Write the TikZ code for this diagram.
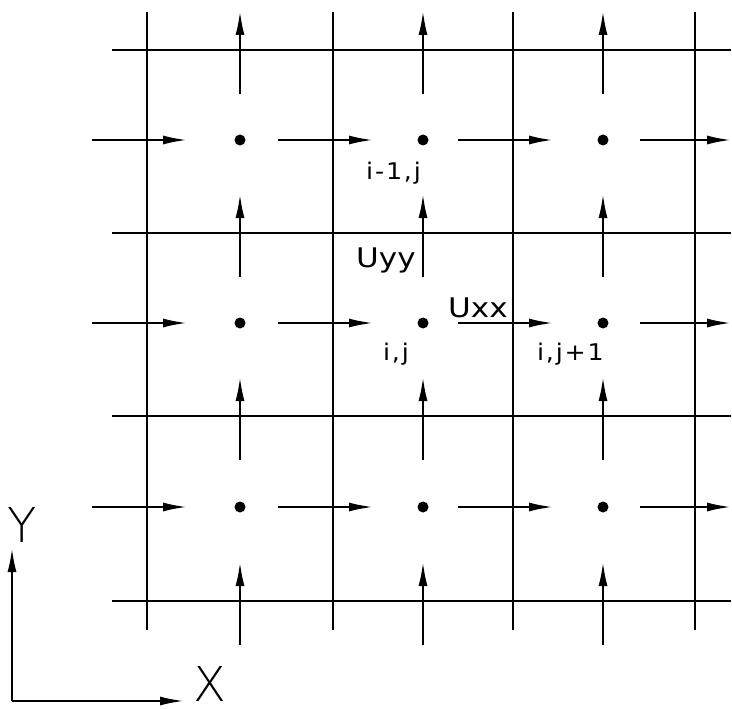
\documentclass[tikz,border=0pt]{standalone}
\usepackage{fontspec}
\newfontfamily\cadfont[FakeStretch=1.15]{DejaVu Sans}
\newfontfamily\cadsmall[FakeStretch=1.1,LetterSpace=8]{DejaVu Sans}
\newfontfamily\cadthin{DejaVu Sans ExtraLight}
\usetikzlibrary{arrows.meta}
\tikzset{
  grid line/.style={line width=2.2pt, line cap=butt},
  flux/.style={line width=2.2pt, -{Latex[length=24pt,width=9pt]}},
  dotmark/.style={circle, fill=black, inner sep=0pt, minimum size=11pt},
  biglabel/.style={font=\cadfont\fontsize{27}{27}\selectfont, inner sep=0pt},
  smalllabel/.style={font=\cadsmall\fontsize{23}{23}\selectfont, inner sep=0pt},
  axislabel/.style={font=\cadthin\fontsize{48}{48}\selectfont, inner sep=0pt},
}
\begin{document}
\begin{tikzpicture}[x=1pt,y=-1pt]
\useasboundingbox (0,0) rectangle (732,709);
% grid lines
\foreach \X [count=\k] in {147,333,513,695} {
  \coordinate (vt\k) at (\X,12);
  \coordinate (vb\k) at (\X,630);
  \draw[grid line] (vt\k) -- (vb\k);
}
\foreach \Y [count=\k] in {50,233,416,601} {
  \coordinate (hl\k) at (112,\Y);
  \coordinate (hr\k) at (731,\Y);
  \draw[grid line] (hl\k) -- (hr\k);
}
% cell centres
\foreach \cy [count=\r] in {140,323,507} {
  \foreach \cx [count=\c] in {240,423,603} {
    \node[dotmark] (p\r\c) at (\cx,\cy) {};
  }
}
% horizontal fluxes
\foreach \cy [count=\r] in {140,323,507} {
  \foreach \X [count=\k] in {147,333,513,695} {
    \coordinate (ha\r\k) at (\X-55,\cy);
    \coordinate (hb\r\k) at ({min(\X+40,731)},\cy);
    \draw[flux] (ha\r\k) -- (hb\r\k);
  }
}
% vertical fluxes
\foreach \cx [count=\c] in {240,423,603} {
  \foreach \Y [count=\k] in {50,233,416,601} {
    \coordinate (va\c\k) at (\cx,\Y+44);
    \coordinate (vb\c\k) at (\cx,\Y-39);
    \draw[flux] (va\c\k) -- (vb\c\k);
  }
}
% labels
\node[smalllabel, anchor=base west] (lim1) at (366,179) {i-1,j};
\node[biglabel, anchor=base west] (luyy) at (356,267) {Uyy};
\node[biglabel, anchor=base west] (luxx) at (448,317) {Uxx};
\node[smalllabel, anchor=base east] (lij) at (409,360) {i,j};
\node[smalllabel, anchor=base east] (lijp) at (604,360) {i,j+1};
% axes
\coordinate (origin) at (12,701);
\coordinate (yend) at (12,548);
\coordinate (xend) at (184,701);
\draw[flux] (origin) -- (yend);
\draw[flux] (origin) -- (xend);
\node[axislabel, anchor=base] (ly) at (22,542) {Y};
\node[axislabel, anchor=base] (lx) at (210,701) {X};
\end{tikzpicture}
\end{document}
